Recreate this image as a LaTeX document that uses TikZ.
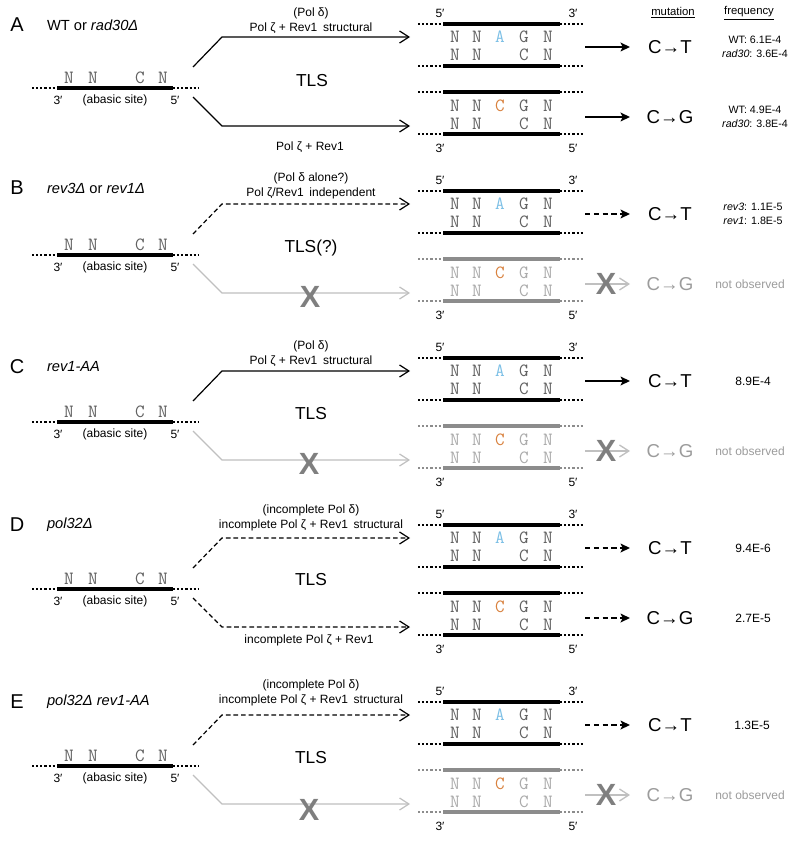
\documentclass[tikz,border=0pt]{standalone}
\usepackage{fontspec}
\setmainfont{Liberation Sans}
\usetikzlibrary{arrows.meta}
\definecolor{basegray}{HTML}{626262}
\definecolor{lightbase}{HTML}{ABABAB}
\definecolor{ghostline}{HTML}{C0C0C0}
\definecolor{ghoststrand}{HTML}{8C8C8C}
\definecolor{xgray}{HTML}{7F7F7F}
\definecolor{adenine}{HTML}{7DC0E6}
\definecolor{cytorange}{HTML}{D9823F}
\definecolor{mutgray}{HTML}{9C9C9C}
\newcommand\fs[1]{\fontsize{#1}{#1}\selectfont}
\tikzset{
  txt/.style={inner sep=0pt, outer sep=0pt},
  nuc/.style={txt, font=\ttfamily\fs{14}, text=#1},
  small/.style={txt, font=\fs{9}},
  strandline/.style={line width=2.3pt, draw=#1},
  dotline/.style={line width=1.6pt, draw=#1, dash pattern=on 1.6pt off 1.5pt},
  flow/.style={line width=0.9pt, draw=black, -{Straight Barb[length=7pt,width=9pt,line width=0.9pt]}},
  flowdash/.style={flow, dash pattern=on 3.5pt off 2.2pt},
  flowghost/.style={flow, draw=ghostline},
  yield/.style={line width=1.3pt, draw=black, -{Stealth[length=7pt,width=6.5pt,inset=1.5pt]}},
  yielddash/.style={yield, dash pattern=on 4pt off 2.6pt},
  yieldghost/.style={line width=1.3pt, draw=ghostline, -{Straight Barb[length=7pt,width=9pt,line width=1pt]}},
  xmark/.style={txt, font=\bfseries\fs{23}, text=xgray},
  mut/.style={txt, font=\fs{14}},
  freq/.style={txt, font=\fs{8}},
  freqone/.style={txt, font=\fs{9}},
}
% template strand with abasic site
\newcommand\Template[2]{%
 \begin{scope}[shift={(0,#2)}]
  \draw[dotline=black] (32,88) -- (57,88);
  \draw[strandline=black] (57,88) -- (173,88);
  \draw[dotline=black] (173,88) -- (198,88);
  \node[nuc=basegray] (#1-t1) at (69,78) {N};
  \node[nuc=basegray] (#1-t2) at (93,78) {N};
  \node[nuc=basegray] (#1-t3) at (140,78) {C};
  \node[nuc=basegray] (#1-t4) at (163,78) {N};
  \node[small] (#1-tl) at (58,100) {3′};
  \node[small] (#1-tm) at (115,100) {(abasic site)};
  \node[small] (#1-tr) at (175,100) {5′};
 \end{scope}}
% upper product duplex (C->T)
\newcommand\DupTop[2]{%
 \begin{scope}[shift={(0,#2)}]
  \draw[dotline=black] (418,24) -- (443,24);
  \draw[strandline=black] (443,24) -- (560,24);
  \draw[dotline=black] (560,24) -- (584,24);
  \draw[dotline=black] (418,66) -- (443,66);
  \draw[strandline=black] (443,66) -- (560,66);
  \draw[dotline=black] (560,66) -- (584,66);
  \node[small] (#1-a5) at (440,13) {5′};
  \node[small] (#1-a3) at (573,13) {3′};
  \node[nuc=basegray] (#1-a1) at (455,37) {N};
  \node[nuc=basegray] (#1-a2) at (477,37) {N};
  \node[nuc=adenine] (#1-aA) at (500,37) {A};
  \node[nuc=basegray] (#1-a4) at (524,37) {G};
  \node[nuc=basegray] (#1-a6) at (548,37) {N};
  \node[nuc=basegray] (#1-b1) at (455,55) {N};
  \node[nuc=basegray] (#1-b2) at (477,55) {N};
  \node[nuc=basegray] (#1-b4) at (524,55) {C};
  \node[nuc=basegray] (#1-b6) at (548,55) {N};
 \end{scope}}
% lower product duplex (C->G): #3 strand colour, #4 letter colour
\newcommand\DupBot[4]{%
 \begin{scope}[shift={(0,#2)}]
  \draw[dotline=#3] (418,92) -- (443,92);
  \draw[strandline=#3] (443,92) -- (560,92);
  \draw[dotline=#3] (560,92) -- (584,92);
  \draw[dotline=#3] (418,134) -- (443,134);
  \draw[strandline=#3] (443,134) -- (560,134);
  \draw[dotline=#3] (560,134) -- (584,134);
  \node[small] (#1-c3) at (440,148) {3′};
  \node[small] (#1-c5) at (573,148) {5′};
  \node[nuc=#4] (#1-c1) at (455,106) {N};
  \node[nuc=#4] (#1-c2) at (477,106) {N};
  \node[nuc=cytorange] (#1-cC) at (500,106) {C};
  \node[nuc=#4] (#1-c4) at (524,106) {G};
  \node[nuc=#4] (#1-c6) at (548,106) {N};
  \node[nuc=#4] (#1-d1) at (455,124) {N};
  \node[nuc=#4] (#1-d2) at (477,124) {N};
  \node[nuc=#4] (#1-d4) at (524,124) {C};
  \node[nuc=#4] (#1-d6) at (548,124) {N};
 \end{scope}}
% branching TLS arrows and output arrows
\newcommand\Branches[6]{%
 \begin{scope}[shift={(0,#2)}]
  \coordinate (#1-us) at (193,67);
  \coordinate (#1-uk) at (222,37);
  \coordinate (#1-ue) at (410,37);
  \coordinate (#1-ls) at (193,97);
  \coordinate (#1-lk) at (222,126);
  \coordinate (#1-le) at (410,126);
  \coordinate (#1-ms) at (585,47);
  \coordinate (#1-me) at (630,47);
  \coordinate (#1-ns) at (585,117);
  \coordinate (#1-ne) at (630,117);
  \draw[#3] (#1-us) -- (#1-uk) -- (#1-ue);
  \draw[#4] (#1-ls) -- (#1-lk) -- (#1-le);
  \draw[#5] (#1-ms) -- (#1-me);
  \draw[#6] (#1-ns) -- (#1-ne);
 \end{scope}}
\begin{document}
\begin{tikzpicture}[x=0.75pt,y=-0.75pt]
\fill[white] (0,0) rectangle (800,841);
\useasboundingbox (0,0) rectangle (800,841);

\node[txt,font=\fs{8.5}] (hmut) at (673,13) {\underline{mutation}};
\node[txt,font=\fs{8.5}] (hfreq) at (749,13) {\underline{frequency}};

% ---------------- A
\Template{A}{0}
\DupTop{A}{0}
\DupBot{A}{0}{black}{basegray}
\Branches{A}{0}{flow}{flow}{yield}{yield}
\node[txt,font=\fs{15}] (A-lab) at (17,25) {A};
\node[txt,font=\fs{11},anchor=west] (A-gen) at (47,25) {WT or \textit{rad30Δ}};
\node[small] (A-u1) at (311,13) {(Pol δ)};
\node[small] (A-u2) at (311,28) {Pol ζ + Rev1\hspace{0.2em} structural};
\node[txt,font=\fs{13}] (A-tls) at (312,81) {TLS};
\node[small] (A-l1) at (310,147) {Pol ζ + Rev1};
\node[mut] (A-m1) at (670,47) {C→T};
\node[mut] (A-m2) at (670,117) {C→G};
\node[freq] (A-f1) at (755,40) {WT: 6.1E-4};
\node[freq] (A-f2) at (755,54) {\textit{rad30}: 3.6E-4};
\node[freq] (A-f3) at (755,110) {WT: 4.9E-4};
\node[freq] (A-f4) at (755,124) {\textit{rad30}: 3.8E-4};

% ---------------- B
\Template{B}{167}
\DupTop{B}{167}
\DupBot{B}{167}{ghoststrand}{lightbase}
\Branches{B}{167}{flowdash}{flowghost}{yielddash}{yieldghost}
\node[txt,font=\fs{15}] (B-lab) at (17,188) {B};
\node[txt,font=\fs{11},anchor=west] (B-gen) at (47,188) {\textit{rev3Δ} or \textit{rev1Δ}};
\node[small] (B-u1) at (311,178) {(Pol δ alone?)};
\node[small] (B-u2) at (311,193) {Pol ζ/Rev1\hspace{0.2em} independent};
\node[txt,font=\fs{13}] (B-tls) at (311,248) {TLS(?)};
\node[xmark] (B-x1) at (310,297) {X};
\node[xmark] (B-x2) at (606,284) {X};
\node[mut] (B-m1) at (670,214) {C→T};
\node[mut,text=mutgray] (B-m2) at (670,284) {C→G};
\node[freq] (B-f1) at (753,207) {\textit{rev3}: 1.1E-5};
\node[freq] (B-f2) at (753,221) {\textit{rev1}: 1.8E-5};
\node[freqone,text=mutgray] (B-f3) at (750,284) {not observed};

% ---------------- C
\Template{C}{334}
\DupTop{C}{334}
\DupBot{C}{334}{ghoststrand}{lightbase}
\Branches{C}{334}{flow}{flowghost}{yield}{yieldghost}
\node[txt,font=\fs{15}] (C-lab) at (17,367) {C};
\node[txt,font=\fs{11},anchor=west] (C-gen) at (47,367) {\textit{rev1-AA}};
\node[small] (C-u1) at (311,346) {(Pol δ)};
\node[small] (C-u2) at (311,361) {Pol ζ + Rev1\hspace{0.2em} structural};
\node[txt,font=\fs{13}] (C-tls) at (311,414) {TLS};
\node[xmark] (C-x1) at (309,464) {X};
\node[xmark] (C-x2) at (606,451) {X};
\node[mut] (C-m1) at (670,381) {C→T};
\node[mut,text=mutgray] (C-m2) at (670,451) {C→G};
\node[freqone] (C-f1) at (753,381) {8.9E-4};
\node[freqone,text=mutgray] (C-f3) at (750,451) {not observed};

% ---------------- D
\Template{D}{501}
\DupTop{D}{501}
\DupBot{D}{501}{black}{basegray}
\Branches{D}{501}{flowdash}{flowdash}{yielddash}{yielddash}
\node[txt,font=\fs{15}] (D-lab) at (17,525) {D};
\node[txt,font=\fs{11},anchor=west] (D-gen) at (47,525) {\textit{pol32Δ}};
\node[small] (D-u1) at (311,510) {(incomplete Pol δ)};
\node[small] (D-u2) at (311,525) {incomplete Pol ζ + Rev1\hspace{0.2em} structural};
\node[txt,font=\fs{13}] (D-tls) at (311,580) {TLS};
\node[small] (D-l1) at (309,640) {incomplete Pol ζ + Rev1};
\node[mut] (D-m1) at (670,548) {C→T};
\node[mut] (D-m2) at (670,618) {C→G};
\node[freqone] (D-f1) at (753,548) {9.4E-6};
\node[freqone] (D-f2) at (753,618) {2.7E-5};

% ---------------- E
\Template{E}{678}
\DupTop{E}{678}
\DupBot{E}{678}{ghoststrand}{lightbase}
\Branches{E}{678}{flowdash}{flowghost}{yielddash}{yieldghost}
\node[txt,font=\fs{15}] (E-lab) at (17,702) {E};
\node[txt,font=\fs{11},anchor=west] (E-gen) at (47,702) {\textit{pol32Δ rev1-AA}};
\node[small] (E-u1) at (311,685) {(incomplete Pol δ)};
\node[small] (E-u2) at (311,700) {incomplete Pol ζ + Rev1\hspace{0.2em} structural};
\node[txt,font=\fs{13}] (E-tls) at (311,758) {TLS};
\node[xmark] (E-x1) at (309,810) {X};
\node[xmark] (E-x2) at (606,795) {X};
\node[mut] (E-m1) at (670,725) {C→T};
\node[mut,text=mutgray] (E-m2) at (670,795) {C→G};
\node[freqone] (E-f1) at (752,725) {1.3E-5};
\node[freqone,text=mutgray] (E-f3) at (750,795) {not observed};
\end{tikzpicture}
\end{document}
